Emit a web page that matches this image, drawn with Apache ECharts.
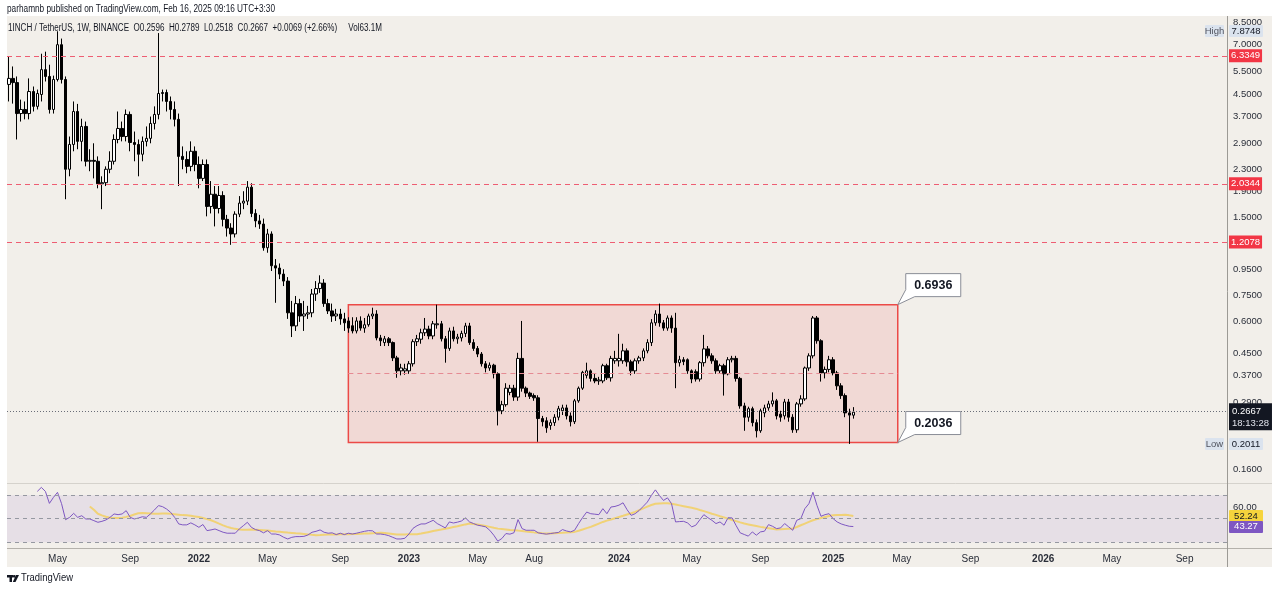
<!DOCTYPE html>
<html><head><meta charset="utf-8">
<script src="https://cdn.jsdelivr.net/npm/echarts@6/dist/echarts.min.js"></script>
<style>html,body{margin:0;padding:0;background:#fff;}#c{width:1280px;height:592px;}</style>
</head><body><div id="c"></div>
<script>
// ---------- data ----------
const START_WEEK = '2021-02-08';
const WEEK_COUNT = 302;
// weekly candles: [open, close, low, high]
const candles = [
[4.91,5.18,4.22,6.29],[5.18,4.99,4.14,5.76],[4.99,3.79,3.01,5.27],[3.79,3.93,3.53,4.29],[3.93,3.79,3.60,4.22],[3.79,4.61,3.60,5.18],[4.61,4.04,3.86,4.82],[4.04,4.53,3.93,4.69],[4.49,5.60,4.22,6.45],[5.60,5.27,5.04,6.57],
[5.27,3.93,3.79,5.85],[3.93,5.13,3.79,5.31],[5.13,6.99,5.04,7.8748],[6.99,5.13,4.95,7.38],[5.13,2.31,1.77,5.27],[2.31,2.88,2.17,3.09],[2.88,3.86,2.71,4.22],[3.86,2.96,2.76,4.13],[2.96,3.38,2.48,3.62],[3.38,2.48,2.37,3.53],
[2.48,2.50,2.27,2.76],[2.50,2.48,2.13,2.91],[2.48,2.03,1.95,2.59],[2.03,2.05,1.62,2.17],[2.05,2.31,1.99,2.37],[2.31,2.48,2.23,2.71],[2.48,3.01,2.41,3.15],[3.01,3.32,2.91,3.86],[3.32,3.09,2.96,3.53],[3.09,3.76,2.96,3.93],
[3.76,2.93,2.71,3.86],[2.93,2.88,2.48,3.23],[2.88,2.64,2.17,3.01],[2.64,2.96,2.48,3.09],[2.96,3.04,2.83,3.38],[3.04,3.47,2.91,3.69],[3.47,3.76,3.29,4.04],[3.76,4.53,3.60,7.75],[4.53,4.57,4.22,4.69],[4.57,4.22,3.86,4.69],
[4.22,3.93,3.60,4.41],[3.93,3.60,3.38,4.22],[3.60,2.59,1.99,3.79],[2.59,2.52,2.31,2.83],[2.52,2.37,2.23,2.71],[2.37,2.71,2.27,2.96],[2.71,2.41,2.27,2.83],[2.41,2.13,1.95,2.59],[2.13,2.41,2.08,2.52],[2.41,1.66,1.52,2.52],
[1.66,1.85,1.56,2.08],[1.85,1.63,1.39,1.99],[1.63,1.83,1.56,1.99],[1.83,1.48,1.39,1.90],[1.48,1.37,1.27,1.54],[1.37,1.30,1.18,1.43],[1.30,1.55,1.26,1.59],[1.55,1.71,1.51,1.82],[1.71,1.74,1.62,1.90],[1.74,1.97,1.68,2.08],
[1.97,1.56,1.51,2.04],[1.56,1.46,1.38,1.62],[1.46,1.42,1.36,1.54],[1.42,1.15,1.12,1.49],[1.15,1.30,1.10,1.36],[1.30,0.98,0.935,1.33],[0.98,0.96,0.705,1.04],[0.96,0.91,0.87,1.00],[0.91,0.855,0.818,0.95],[0.855,0.645,0.611,0.886],
[0.645,0.574,0.52,0.717],[0.574,0.70,0.549,0.749],[0.70,0.627,0.595,0.73],[0.627,0.638,0.549,0.717],[0.638,0.645,0.611,0.686],[0.645,0.762,0.62,0.797],[0.762,0.80,0.717,0.855],[0.80,0.84,0.77,0.90],[0.84,0.70,0.68,0.87],[0.70,0.656,0.638,0.73],
[0.656,0.627,0.595,0.70],[0.627,0.638,0.60,0.668],[0.638,0.611,0.58,0.668],[0.611,0.59,0.549,0.645],[0.60,0.563,0.54,0.62],[0.575,0.549,0.537,0.62],[0.549,0.60,0.537,0.62],[0.60,0.563,0.55,0.625],[0.563,0.58,0.54,0.616],[0.58,0.627,0.57,0.64],
[0.627,0.638,0.61,0.675],[0.638,0.516,0.505,0.66],[0.516,0.503,0.48,0.53],[0.495,0.512,0.48,0.525],[0.512,0.495,0.48,0.52],[0.495,0.432,0.42,0.50],[0.432,0.385,0.362,0.44],[0.385,0.395,0.37,0.41],[0.385,0.392,0.372,0.41],[0.385,0.41,0.375,0.42],
[0.41,0.499,0.40,0.51],[0.499,0.512,0.48,0.53],[0.51,0.54,0.49,0.56],[0.54,0.558,0.525,0.616],[0.558,0.525,0.51,0.575],[0.525,0.585,0.51,0.60],[0.58,0.585,0.56,0.6936],[0.585,0.512,0.50,0.60],[0.512,0.47,0.414,0.525],[0.47,0.549,0.46,0.565],
[0.549,0.512,0.50,0.57],[0.512,0.52,0.49,0.535],[0.516,0.537,0.50,0.55],[0.537,0.574,0.52,0.59],[0.574,0.495,0.485,0.59],[0.495,0.47,0.46,0.51],[0.47,0.447,0.435,0.48],[0.447,0.41,0.40,0.455],[0.41,0.395,0.38,0.42],[0.395,0.405,0.385,0.415],
[0.405,0.375,0.36,0.41],[0.375,0.27,0.237,0.38],[0.27,0.285,0.262,0.295],[0.285,0.33,0.28,0.345],[0.318,0.33,0.31,0.34],[0.33,0.305,0.295,0.34],[0.305,0.43,0.295,0.452],[0.43,0.33,0.32,0.60],[0.33,0.316,0.305,0.335],[0.316,0.307,0.30,0.32],
[0.309,0.303,0.295,0.315],[0.303,0.252,0.205,0.31],[0.252,0.245,0.235,0.258],[0.247,0.232,0.222,0.255],[0.237,0.243,0.228,0.25],[0.243,0.255,0.236,0.262],[0.255,0.275,0.248,0.282],[0.27,0.277,0.26,0.285],[0.277,0.258,0.25,0.285],[0.258,0.245,0.235,0.266],
[0.245,0.295,0.24,0.30],[0.295,0.33,0.29,0.335],[0.33,0.38,0.325,0.385],[0.37,0.385,0.36,0.414],[0.385,0.36,0.35,0.39],[0.36,0.352,0.345,0.375],[0.352,0.355,0.34,0.365],[0.352,0.403,0.345,0.41],[0.403,0.362,0.355,0.41],[0.362,0.43,0.35,0.44],
[0.421,0.43,0.41,0.46],[0.421,0.43,0.40,0.535],[0.421,0.46,0.41,0.49],[0.46,0.417,0.40,0.47],[0.417,0.385,0.37,0.425],[0.385,0.421,0.375,0.43],[0.421,0.432,0.41,0.44],[0.432,0.46,0.42,0.47],[0.46,0.495,0.45,0.51],[0.495,0.59,0.48,0.61],
[0.59,0.638,0.575,0.66],[0.638,0.59,0.57,0.70],[0.59,0.563,0.55,0.605],[0.563,0.616,0.55,0.63],[0.616,0.563,0.54,0.63],[0.563,0.414,0.33,0.645],[0.414,0.425,0.40,0.44],[0.425,0.418,0.405,0.435],[0.425,0.385,0.375,0.43],[0.385,0.358,0.345,0.39],
[0.382,0.358,0.35,0.39],[0.358,0.414,0.35,0.42],[0.414,0.468,0.40,0.53],[0.468,0.44,0.43,0.48],[0.44,0.421,0.41,0.45],[0.421,0.385,0.375,0.43],[0.385,0.403,0.375,0.41],[0.403,0.375,0.309,0.41],[0.375,0.425,0.37,0.435],[0.425,0.43,0.415,0.44],
[0.43,0.36,0.35,0.44],[0.36,0.282,0.275,0.365],[0.282,0.255,0.226,0.29],[0.255,0.275,0.245,0.28],[0.275,0.243,0.235,0.28],[0.243,0.226,0.213,0.25],[0.226,0.27,0.222,0.275],[0.265,0.277,0.255,0.285],[0.277,0.287,0.27,0.295],[0.287,0.295,0.28,0.318],
[0.295,0.258,0.25,0.30],[0.262,0.255,0.245,0.27],[0.258,0.292,0.25,0.30],[0.292,0.255,0.245,0.30],[0.255,0.228,0.222,0.262],[0.228,0.287,0.222,0.292],[0.287,0.30,0.28,0.31],[0.30,0.395,0.295,0.40],[0.395,0.44,0.385,0.45],[0.44,0.616,0.43,0.627],
[0.616,0.503,0.49,0.627],[0.503,0.378,0.35,0.51],[0.378,0.39,0.36,0.40],[0.39,0.425,0.38,0.44],[0.425,0.378,0.37,0.435],[0.378,0.337,0.325,0.385],[0.337,0.309,0.30,0.345],[0.309,0.265,0.255,0.315],[0.265,0.2598,0.2011,0.275],[0.2596,0.2667,0.2518,0.2789]
];
const rsi = [
null,null,null,null,null,null,null,73.2,76.6,73.2,
63.0,68.1,72.4,62.8,49.1,51.1,54.5,51.1,52.5,49.7,
49.7,48.3,46.9,47.7,48.9,51.1,54.0,53.4,54.0,56.8,
51.1,49.7,50.5,51.6,51.1,54.0,57.4,61.1,60.2,58.2,
55.4,51.1,45.5,44.7,44.7,46.4,44.7,42.6,45.0,39.8,
40.4,41.2,39.8,38.4,37.6,37.6,37.6,41.2,44.0,46.9,
42.6,40.7,39.8,37.9,39.8,36.9,36.9,36.1,34.1,32.7,
34.1,34.7,34.7,34.9,36.1,38.4,39.2,40.4,38.4,37.6,
37.9,36.4,37.6,36.4,37.6,36.9,37.6,38.4,39.2,39.8,
39.6,36.9,36.9,36.4,35.5,34.1,32.7,32.7,33.3,36.9,
41.7,44.0,45.5,45.5,47.0,48.6,45.8,44.0,42.1,47.2,
46.3,47.0,48.0,50.6,47.2,45.8,44.4,43.8,43.0,40.1,
35.9,30.8,33.1,37.3,36.8,38.0,49.2,41.5,40.1,40.1,
40.1,37.9,37.3,36.8,37.3,37.8,38.2,40.7,39.5,38.7,
40.1,45.8,51.0,55.6,54.2,53.8,53.4,58.5,54.2,59.9,
60.4,61.5,63.5,57.6,52.8,54.2,57.0,60.5,64.1,69.7,
74.5,69.7,65.5,67.7,62.7,47.2,47.5,47.7,46.3,43.0,
44.4,49.0,53.4,50.8,48.6,45.8,47.2,44.4,50.8,50.6,
44.0,37.9,36.5,35.1,38.7,35.9,38.7,39.3,44.9,43.5,
41.5,42.1,45.8,43.0,40.1,48.6,50.0,58.5,62.7,72.5,
61.3,52.0,53.4,54.2,50.0,47.2,45.5,44.4,43.5,43.27
];
const rsiMa = [
null,null,null,null,null,null,null,null,null,null,
null,null,null,null,null,null,null,null,null,null,
60.4,57.5,54.2,52.8,51.6,50.8,50.6,50.6,50.8,51.5,
52.3,53.5,54.6,54.8,54.6,54.4,54.2,54.2,54.3,54.3,
54.2,53.8,53.4,53.0,52.8,52.4,51.9,51.4,50.6,49.6,
48.6,47.2,45.7,44.3,43.0,42.1,41.3,40.7,40.6,40.6,
40.7,40.6,40.4,40.1,39.8,39.5,39.1,38.8,38.5,38.1,
37.8,37.5,37.3,37.0,36.6,36.2,35.9,36.0,36.2,36.4,
36.5,36.6,36.7,36.8,36.8,36.9,37.0,37.1,37.3,37.4,
37.6,37.8,37.9,37.7,37.3,36.9,36.5,36.5,36.6,36.7,
36.8,36.8,37.3,38.0,38.7,39.4,40.1,40.7,41.4,42.1,
42.8,43.5,44.3,45.1,45.8,45.5,45.0,44.4,43.7,43.0,
42.2,41.5,41.2,40.8,40.4,40.1,39.8,39.4,39.0,38.7,
38.3,38.0,37.6,37.3,37.4,37.6,37.8,37.9,38.2,38.4,
38.7,39.7,40.8,41.9,43.0,44.4,45.8,47.2,48.3,49.3,
50.4,51.4,52.4,53.5,54.6,55.8,57.3,58.8,60.2,61.6,
62.7,62.9,63.1,63.2,62.6,62.0,61.3,60.6,59.9,59.2,
58.5,57.4,56.4,55.3,54.2,53.2,52.1,51.1,50.0,48.9,
47.9,46.8,45.8,45.1,44.4,43.7,43.0,42.4,41.9,41.3,
40.7,40.9,41.1,41.3,41.5,42.9,44.4,45.8,47.2,48.6,
49.6,50.5,51.4,52.3,52.8,53.0,53.2,53.4,52.8,52.24
];
const priceTicks = [8.5, 7, 5.5, 4.5, 3.7, 2.9, 2.3, 1.9, 1.5, 0.95, 0.75, 0.6, 0.45, 0.37, 0.29, 0.16];
const rsiTicks = [40, 60];
const timeLabels = [
['2021-05','May'],['2021-09','Sep'],['2022-01','2022'],['2022-05','May'],['2022-09','Sep'],
['2023-01','2023'],['2023-05','May'],['2023-08','Aug'],['2024-01','2024'],['2024-05','May'],
['2024-09','Sep'],['2025-01','2025'],['2025-05','May'],['2025-09','Sep'],['2026-01','2026'],
['2026-05','May'],['2026-09','Sep']
];
const levelLines = [6.3349, 2.0344, 1.2078];
const rangeStart = '2022-09-19', rangeEnd = '2025-04-28';
const rangeTop = 0.6936, rangeBottom = 0.2036, rangeMid = 0.3758;
const lastPrice = 0.2667, countdown = '18:13:28';
const highValue = 7.8748, lowValue = 0.2011;
const rsiLast = 43.27, rsiMaLast = 52.24;
const PRICE_MIN = 0.1421, PRICE_MAX = 9.02;
const RSI_MIN = 25, RSI_MAX = 79.5;
const publisherText = 'parhamnb published on TradingView.com, Feb 16, 2025 09:16 UTC+3:30';
const headerText = '1INCH / TetherUS, 1W, BINANCE  O0.2596  H0.2789  L0.2518  C0.2667  +0.0069 (+2.66%)     Vol63.1M';

// ---------- helpers ----------
const FONT = "'Liberation Sans', Arial, sans-serif";
const TEXT = '#2a2e39';
const BG = '#f2efea';
const weeks = [];
(function () {
  const p = START_WEEK.split('-').map(Number);
  const t0 = Date.UTC(p[0], p[1] - 1, p[2]);
  for (let i = 0; i < WEEK_COUNT; i++) weeks.push(new Date(t0 + i * 7 * 864e5).toISOString().slice(0, 10));
})();
const labelMap = {};
timeLabels.forEach(([k, t]) => { labelMap[k] = t; });
function weekLabel(d) {
  if (+d.slice(8, 10) > 7) return null;
  return labelMap[d.slice(0, 7)] || null;
}
const measureCtx = document.createElement('canvas').getContext('2d');
function textWidth(t, font) { measureCtx.font = font; return measureCtx.measureText(t).width; }

const chart = echarts.init(document.getElementById('c'));
const levelLabel = (txt) => ({
  show: true, position: 'end', distance: 2, formatter: () => txt,
  backgroundColor: '#f23645', color: '#ffffff', padding: [2, 2, 1, 2],
  fontSize: 9.5, fontFamily: FONT
});

const option = {
  animation: false,
  backgroundColor: '#ffffff',
  textStyle: { fontFamily: FONT },
  grid: [
    { left: 7, right: 53, top: 16, height: 467 },
    { left: 7, right: 53, top: 484, height: 64 }
  ],
  xAxis: [
    { type: 'category', gridIndex: 0, data: weeks, boundaryGap: true, show: false },
    { type: 'category', gridIndex: 1, data: weeks, boundaryGap: true,
      axisLine: { show: false }, axisTick: { show: false }, splitLine: { show: false },
      axisLabel: {
        interval: (i, v) => weekLabel(v) !== null,
        formatter: (v) => { const t = weekLabel(v) || ''; return /^\d{4}$/.test(t) ? '{y|' + t + '}' : t; },
        color: TEXT, fontSize: 10, fontFamily: FONT, margin: 6,
        rich: { y: { fontWeight: 'bold', color: TEXT, fontSize: 10, fontFamily: FONT } }
      } }
  ],
  yAxis: [
    { type: 'log', logBase: 10, gridIndex: 0, position: 'right', min: PRICE_MIN, max: PRICE_MAX,
      axisLine: { show: false }, axisTick: { show: false }, splitLine: { show: false },
      axisLabel: { customValues: priceTicks, formatter: (v) => Number(v).toFixed(4), color: TEXT, fontSize: 9.5, fontFamily: FONT, margin: 6 } },
    { type: 'value', gridIndex: 1, position: 'right', min: RSI_MIN, max: RSI_MAX,
      axisLine: { show: false }, axisTick: { show: false }, splitLine: { show: false },
      axisLabel: { customValues: rsiTicks, formatter: (v) => Number(v).toFixed(2), color: TEXT, fontSize: 9.5, fontFamily: FONT, margin: 6 } }
  ],
  series: [
    {
      type: 'candlestick', name: '1INCHUSDT', xAxisIndex: 0, yAxisIndex: 0, data: candles,
      barWidth: 3, clip: false,
      itemStyle: { color: '#ffffff', color0: '#000000', borderColor: '#000000', borderColor0: '#000000', borderWidth: 1 },
      markArea: {
        silent: true, label: { show: false },
        itemStyle: { color: 'rgba(242,54,69,0.12)', borderColor: '#ec4a47', borderWidth: 1.5 },
        data: [[{ xAxis: rangeStart, yAxis: rangeTop }, { xAxis: rangeEnd, yAxis: rangeBottom }]]
      },
      markLine: {
        silent: true, symbol: ['none', 'none'], label: { show: false },
        data: [
          ...levelLines.map(v => ({ yAxis: v, lineStyle: { color: '#ee5d72', type: [5, 4], width: 1 }, label: levelLabel(v.toFixed(4)) })),
          [{ coord: [rangeStart, rangeMid], lineStyle: { color: '#e58a93', type: [5, 4], width: 1 }, label: { show: false } }, { coord: [rangeEnd, rangeMid] }],
          { yAxis: lastPrice, lineStyle: { color: '#6a6d78', type: [1, 2], width: 1 },
            label: { show: true, position: 'end', distance: 2, offset: [0, 6],
              formatter: () => '{a|' + lastPrice.toFixed(4) + '}\n{b|' + countdown + '}',
              backgroundColor: '#131722', padding: [2, 3, 1, 3],
              rich: { a: { color: '#ffffff', fontSize: 9.5, fontFamily: FONT, lineHeight: 12 },
                      b: { color: '#e0e3eb', fontSize: 9.5, fontFamily: FONT, lineHeight: 12 } } } }
        ]
      }
    },
    {
      type: 'line', name: 'RSI', xAxisIndex: 1, yAxisIndex: 1, data: rsi, symbol: 'none', z: 4,
      lineStyle: { color: '#7e57c2', width: 1 },
      markArea: { silent: true, itemStyle: { color: 'rgba(126,87,194,0.1)' }, data: [[{ yAxis: 70 }, { yAxis: 30 }]] },
      markLine: { silent: true, symbol: ['none', 'none'], label: { show: false },
        lineStyle: { color: '#9598a1', type: [4, 4], width: 1 },
        data: [{ yAxis: 70 }, { yAxis: 50 }, { yAxis: 30 }] }
    },
    {
      type: 'line', name: 'RSI-based MA', xAxisIndex: 1, yAxisIndex: 1, data: rsiMa, symbol: 'none', z: 3,
      lineStyle: { color: 'rgba(244,206,80,0.75)', width: 2 }
    }
  ]
};
chart.setOption(option);

// ---------- overlays positioned through the chart's own scales ----------
const yP = v => chart.convertToPixel({ yAxisIndex: 0 }, v);
const yR = v => chart.convertToPixel({ yAxisIndex: 1 }, v);
const pt = (c, v) => chart.convertToPixel({ xAxisIndex: 0, yAxisIndex: 0 }, [c, v]);

function tag(x, yc, w, h, bg, txt, fg) {
  return [
    { type: 'rect', shape: { x: x, y: Math.round(yc - h / 2), width: w, height: h, r: 1 }, style: { fill: bg }, z: 60, silent: true },
    { type: 'text', x: x + w / 2, y: yc, style: { text: txt, fill: fg, font: '9.5px ' + FONT, textAlign: 'center', textVerticalAlign: 'middle', verticalAlign: 'middle' }, z: 61, silent: true }
  ];
}
function callout(p, txt) {
  const w = 55, h = 23, x0 = p[0] + 8, y0 = p[1] - 31;
  return [
    { type: 'polygon', shape: { points: [[x0, y0], [x0 + w, y0], [x0 + w, y0 + h], [x0 + 9, y0 + h], [p[0], p[1]], [x0, y0 + h - 7]] },
      style: { fill: '#ffffff', stroke: '#8a8d96', lineWidth: 1 }, z: 60, silent: true },
    { type: 'text', x: x0 + w / 2, y: y0 + h / 2 + 0.5, style: { text: txt, fill: '#131722', font: "bold 12.5px 'Liberation Sans', Arial, sans-serif", textAlign: 'center', textVerticalAlign: 'middle', verticalAlign: 'middle' }, z: 61, silent: true }
  ];
}
// text squeezed horizontally to the width it occupies in the reference
function fitText(t, x, y, size, targetWidth) {
  const font = size + 'px ' + FONT;
  const sx = Math.min(1, targetWidth / textWidth(t, font));
  return { type: 'text', x: x, y: y, scaleX: sx, style: { text: t, fill: '#131722', font: font, textVerticalAlign: 'middle', verticalAlign: 'middle' }, z: 61, silent: true };
}

const yH = yP(highValue), yL = yP(lowValue);
const elements = [
  { type: 'rect', shape: { x: 7, y: 16, width: 1265, height: 551 }, style: { fill: BG }, z: -10, silent: true },
  { type: 'line', shape: { x1: 7, y1: 483.5, x2: 1272, y2: 483.5 }, style: { stroke: '#d5d2cc', lineWidth: 1 }, z: 1, silent: true },
  { type: 'line', shape: { x1: 7, y1: 548.5, x2: 1272, y2: 548.5 }, style: { stroke: '#b4b1ab', lineWidth: 1 }, z: 1, silent: true },
  { type: 'line', shape: { x1: 1227.5, y1: 16, x2: 1227.5, y2: 567 }, style: { stroke: '#9c9a95', lineWidth: 1 }, z: 1, silent: true },
  fitText(publisherText, 7, 9, 10, 268),
  fitText(headerText, 8, 28, 10, 374),
  // TradingView logo
  { type: 'rect', shape: { x: 7, y: 575, width: 6, height: 2.5 }, style: { fill: '#131722' }, z: 61, silent: true },
  { type: 'rect', shape: { x: 9.5, y: 575, width: 2.5, height: 7 }, style: { fill: '#131722' }, z: 61, silent: true },
  { type: 'circle', shape: { cx: 14.2, cy: 576.3, r: 1.4 }, style: { fill: '#131722' }, z: 61, silent: true },
  { type: 'polygon', shape: { points: [[16, 575], [19, 575], [15.5, 582], [12.8, 582]] }, style: { fill: '#131722' }, z: 61, silent: true },
  fitText('TradingView', 21, 578.5, 10.5, 52),
  // High / Low tags
  ...tag(1205, yH, 19, 12, '#dbe3ee', 'High', '#50535e'),
  ...tag(1229, yH, 34, 12, '#dbe3ee', highValue.toFixed(4), '#131722'),
  ...tag(1205, yL, 19, 12, '#dbe3ee', 'Low', '#50535e'),
  ...tag(1229, yL, 34, 12, '#dbe3ee', lowValue.toFixed(4), '#131722'),
  // RSI value tags
  ...tag(1229, yR(rsiMaLast), 34, 12, '#f6d43c', rsiMaLast.toFixed(2), '#131722'),
  ...tag(1229, yR(rsiLast), 34, 12, '#7e57c2', rsiLast.toFixed(2), '#ffffff'),
  // range callouts
  ...callout(pt(rangeEnd, rangeTop), rangeTop.toFixed(4)),
  ...callout(pt(rangeEnd, rangeBottom), rangeBottom.toFixed(4))
];
chart.setOption({ graphic: { elements: elements } });
</script>
</body></html>
